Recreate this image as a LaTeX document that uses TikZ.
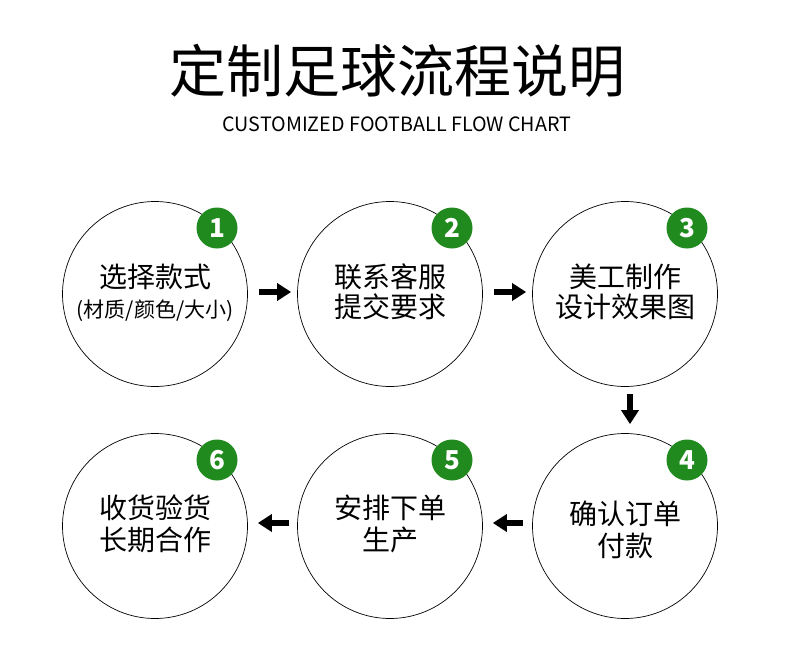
\documentclass[tikz,border=0pt]{standalone}
\usepackage{fontspec}
\setmainfont{Noto Sans CJK SC}
\usetikzlibrary{arrows.meta,calc}
\definecolor{badgegreen}{RGB}{32,138,30}
\tikzset{
  stepcircle/.style={circle,draw=black,line width=0.7pt,minimum size=185pt,inner sep=0pt},
  badge/.style={circle,fill=badgegreen,minimum size=41pt,inner sep=0pt,text=white,font=\fontsize{26}{26}\selectfont\bfseries},
  maintext/.style={inner sep=0pt,font=\fontsize{28}{28}\selectfont},
  subtext/.style={inner sep=0pt,font=\fontsize{21}{21}\selectfont},
  flowarrow/.style={line width=6pt,-{Triangle[length=14pt,width=17pt]}}
}
\begin{document}
\begin{tikzpicture}[x=1pt,y=-1pt]
\useasboundingbox[fill=white] (0,0) rectangle (790,653);
\node[inner sep=0pt,font=\fontsize{57}{57}\selectfont] (title) at (397,71) {定制足球流程说明};
\node[inner sep=0pt,font=\fontsize{19.7}{19.7}\selectfont] (subtitle) at (397,124) {CUSTOMIZED FOOTBALL FLOW CHART};

\node[stepcircle] (c1) at (155,294) {};
\node[stepcircle] (c2) at (390,294) {};
\node[stepcircle] (c3) at (625,294) {};
\node[stepcircle] (c4) at (625,526) {};
\node[stepcircle] (c5) at (390,526) {};
\node[stepcircle] (c6) at (155,526) {};

\node[badge] (b1) at ($(c1)+(62,-66)$) {1};
\node[badge] (b2) at ($(c2)+(62,-66)$) {2};
\node[badge] (b3) at ($(c3)+(62,-66)$) {3};
\node[badge] (b4) at ($(c4)+(62,-66)$) {4};
\node[badge] (b5) at ($(c5)+(62,-66)$) {5};
\node[badge] (b6) at ($(c6)+(62,-66)$) {6};

\node[maintext] (t1a) at (155,277) {选择款式};
\node[subtext] (t1b) at (155,311) {(材质/颜色/大小)};
\node[maintext] (t2a) at (390,277) {联系客服};
\node[maintext] (t2b) at (390,307) {提交要求};
\node[maintext] (t3a) at (625,277) {美工制作};
\node[maintext] (t3b) at (625,307) {设计效果图};
\node[maintext] (t4a) at (625,514) {确认订单};
\node[maintext] (t4b) at (625,546) {付款};
\node[maintext] (t5a) at (390,508) {安排下单};
\node[maintext] (t5b) at (390,540) {生产};
\node[maintext] (t6a) at (155,508) {收货验货};
\node[maintext] (t6b) at (155,540) {长期合作};

\draw[flowarrow,shorten <=11pt,shorten >=6pt] ([yshift=2pt]c1.east) -- ([yshift=2pt]c2.west);
\draw[flowarrow,shorten <=11pt,shorten >=6pt] ([yshift=2pt]c2.east) -- ([yshift=2pt]c3.west);
\draw[flowarrow,shorten <=7pt,shorten >=9pt] ([xshift=5pt]c3.south) -- ([xshift=5pt]c4.north);
\draw[flowarrow,shorten <=9pt,shorten >=10pt] ([yshift=3pt]c4.west) -- ([yshift=3pt]c5.east);
\draw[flowarrow,shorten <=8pt,shorten >=10pt] ([yshift=3pt]c5.west) -- ([yshift=3pt]c6.east);
\end{tikzpicture}
\end{document}
